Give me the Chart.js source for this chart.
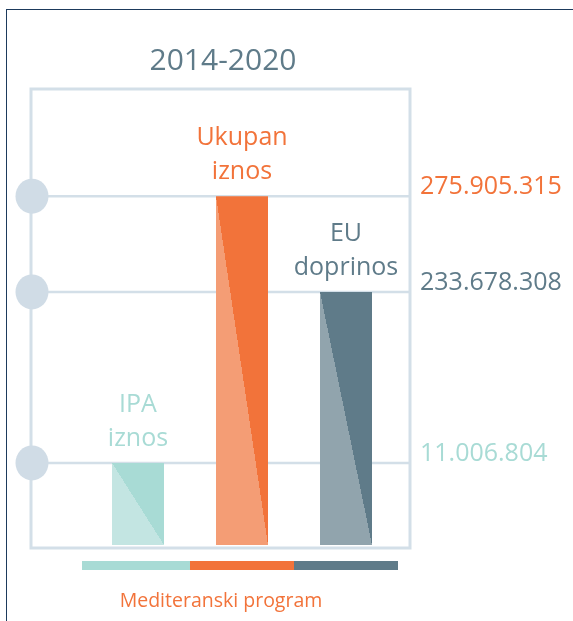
<!DOCTYPE html>
<html>
<head>
<meta charset="utf-8">
<script src="https://cdn.jsdelivr.net/npm/chart.js@4.4.1/dist/chart.umd.min.js"></script>
<style>
  html, body { margin: 0; padding: 0; background: #fff; overflow: hidden; }
  #wrap { position: relative; width: 573px; height: 621px; }
  #frame { position: absolute; left: 6px; top: 9px; width: 620px; height: 700px;
           border-left: 1.5px solid #1d3a5c; border-top: 1.5px solid #1d3a5c; }
  canvas { position: absolute; left: 0; top: 0; }
</style>
</head>
<body>
<div id="wrap">
  <div id="frame"></div>
  <canvas id="mediChart" width="573" height="621"></canvas>
</div>
<script>
    // data
    var period = '2014-2020';
    var programName = 'Mediteranski program';
    var categories = [['IPA', 'iznos'], ['Ukupan', 'iznos'], ['EU', 'doprinos']];
    var amounts = [11006804, 275905315, 233678308];
    var tickValues = [11006804, 233678308, 275905315];

    // styling
    var darkColors = ['#a8dbd5', '#f2733a', '#5f7b89'];
    var lightColors = ['#c3e5e2', '#f49d75', '#91a4ad'];
    var tickColors = ['#a8dbd5', '#5f7b89', '#f2733a'];
    var tickPos = [0.18, 0.555, 0.765];   // where each tick sits on the (non linear) axis
    var boxColor = '#d3dfe8';
    var FONT = '"Open Sans", "Noto Sans", sans-serif';

    function dots(v) {
        return String(Math.round(v)).replace(/\B(?=(\d{3})+(?!\d))/g, '.');
    }

    // piecewise axis: ticks spaced like the infographic, bars still go through the scale
    class StepScale extends Chart.LinearScale {
        buildTicks() {
            return tickValues.map(function (v) { return { value: v }; });
        }
        knots() {
            return {
                vs: [this.min].concat(tickValues, [this.max]),
                ds: [0].concat(tickPos, [1])
            };
        }
        getPixelForValue(value) {
            var k = this.knots();
            for (var i = 0; i < k.vs.length - 1; i++) {
                if (value <= k.vs[i + 1] || i === k.vs.length - 2) {
                    var t = (value - k.vs[i]) / (k.vs[i + 1] - k.vs[i]);
                    return this.getPixelForDecimal(k.ds[i] + t * (k.ds[i + 1] - k.ds[i]));
                }
            }
        }
        getValueForPixel(pixel) {
            var k = this.knots();
            var d = this.getDecimalForPixel(pixel);
            for (var i = 0; i < k.ds.length - 1; i++) {
                if (d <= k.ds[i + 1] || i === k.ds.length - 2) {
                    var t = (d - k.ds[i]) / (k.ds[i + 1] - k.ds[i]);
                    return k.vs[i] + t * (k.vs[i + 1] - k.vs[i]);
                }
            }
        }
    }
    StepScale.id = 'step';
    StepScale.defaults = Chart.LinearScale.defaults;
    Chart.register(StepScale);

    var decor = {
        id: 'decor',
        beforeDatasetsDraw: function (chart) {
            var ctx = chart.ctx, a = chart.chartArea, y = chart.scales.y;
            var box = { l: a.left - 55, r: a.right + 12, t: a.top, b: a.bottom + 3 };
            ctx.save();
            ctx.strokeStyle = boxColor;
            ctx.lineWidth = 3;
            ctx.strokeRect(box.l, box.t, box.r - box.l, box.b - box.t);
            ctx.lineWidth = 2.5;
            tickValues.forEach(function (v) {
                var py = y.getPixelForValue(v);
                ctx.beginPath();
                ctx.moveTo(box.l, py);
                ctx.lineTo(box.r, py);
                ctx.stroke();
                ctx.fillStyle = '#d0dce6';
                ctx.beginPath();
                ctx.ellipse(box.l + 1, py, 16.5, 17.5, 0, 0, Math.PI * 2);
                ctx.fill();
            });
            ctx.restore();

            // two-tone bars split along the diagonal
            chart.getDatasetMeta(0).data.forEach(function (bar, i) {
                var p = bar.getProps(['x', 'y', 'width', 'base'], true);
                var left = p.x - p.width / 2, w = p.width, h = p.base - p.y;
                var len = Math.sqrt(w * w + h * h);
                var nx = h / len, ny = -w / len, L = Math.max(w, h);
                var g = ctx.createLinearGradient(left - nx * L, p.y - ny * L, left + nx * L, p.y + ny * L);
                g.addColorStop(0, lightColors[i]);
                g.addColorStop(0.5, lightColors[i]);
                g.addColorStop(0.5, darkColors[i]);
                g.addColorStop(1, darkColors[i]);
                bar.options.backgroundColor = g;
            });
        },
        afterDraw: function (chart) {
            var ctx = chart.ctx, a = chart.chartArea, x = chart.scales.x;
            ctx.save();
            ctx.textAlign = 'center';
            ctx.textBaseline = 'alphabetic';

            ctx.font = '30px ' + FONT;
            ctx.fillStyle = '#5f7b89';
            ctx.fillText(period, 223, 70);

            ctx.font = '25px ' + FONT;
            chart.getDatasetMeta(0).data.forEach(function (bar, i) {
                var lines = categories[i];
                ctx.fillStyle = darkColors[i];
                lines.forEach(function (txt, j) {
                    ctx.fillText(txt, bar.x, bar.y - 17 - (lines.length - 1 - j) * 34);
                });
            });

            var band = (a.right - a.left) / categories.length;
            categories.forEach(function (c, i) {
                var cx = x.getPixelForValue(i);
                var x0 = i === 0 ? a.left - 4 : cx - band / 2;
                ctx.fillStyle = darkColors[i];
                ctx.fillRect(x0, 561, cx + band / 2 - x0, 9);
            });

            ctx.font = '19.5px ' + FONT;
            ctx.fillStyle = '#f2733a';
            ctx.fillText(programName, 221, 607);
            ctx.restore();
        }
    };

    var ctx = document.getElementById('mediChart').getContext('2d');

    var mediChart = new Chart(ctx, {
        type: 'bar',
        data: {
            labels: categories,
            datasets: [{
                data: amounts,
                backgroundColor: darkColors,
                borderWidth: 0,
                barPercentage: 0.5,
                categoryPercentage: 1
            }]
        },
        options: {
            responsive: false,
            animation: false,
            devicePixelRatio: 1,
            layout: { padding: { left: 86, right: 0, top: 89, bottom: 76 } },
            plugins: {
                legend: { display: false },
                title: { display: false },
                tooltip: { enabled: false }
            },
            scales: {
                x: { type: 'category', display: false },
                y: {
                    type: 'step',
                    position: 'right',
                    min: 0,
                    max: 300000000,
                    grid: { display: false, drawTicks: false },
                    border: { display: false },
                    afterFit: function (s) { s.width = 175; },
                    ticks: {
                        autoSkip: false,
                        padding: 22,
                        labelOffset: -9,
                        font: { family: FONT, size: 25 },
                        color: function (c) { return tickColors[c.index]; },
                        callback: function (v) { return dots(v); }
                    }
                }
            }
        },
        plugins: [decor]
    });
</script>
</body>
</html>
